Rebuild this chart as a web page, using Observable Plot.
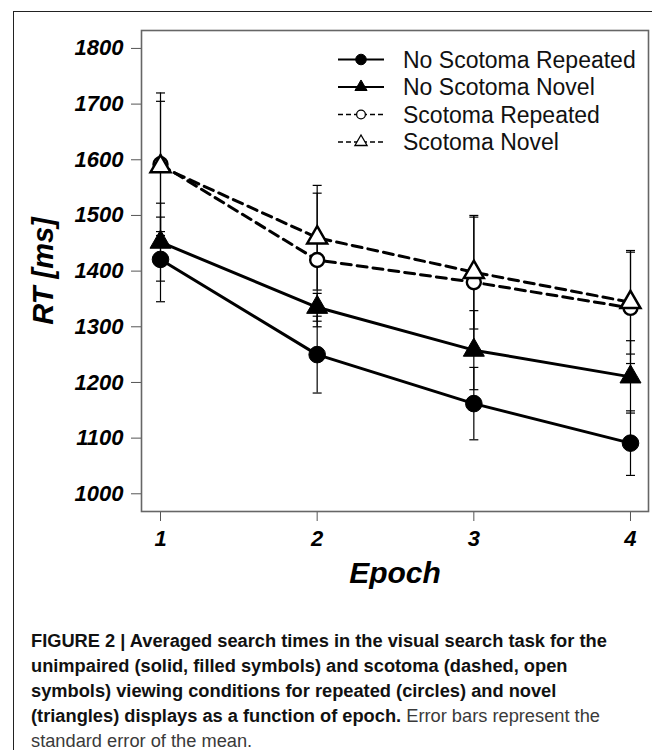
<!DOCTYPE html>
<html>
<head>
<meta charset="utf-8">
<script src="https://cdn.jsdelivr.net/npm/d3@7"></script>
<script src="https://cdn.jsdelivr.net/npm/@observablehq/plot@0.6"></script>
<style>
  body { margin: 0; background: #fff; }
  #wrap { position: relative; width: 652px; height: 750px; overflow: hidden; font-family: "Liberation Sans", Arial, Helvetica, sans-serif; }
  #border { position: absolute; left: 13px; top: 11px; width: 700px; height: 800px; border-left: 1.3px solid #222; border-top: 1.3px solid #222; }
  #chart { position: absolute; left: 0; top: 0; }
  #legend { position: absolute; left: 0; top: 0; }
  #caption { position: absolute; left: 31px; top: 628px; font-size: 18.25px; line-height: 25px; color: #111; white-space: nowrap; font-weight: bold; }
  #caption .reg { color: #3a3a3a; font-weight: normal; }
</style>
</head>
<body>
<div id="wrap">
  <div id="border"></div>
  <div id="chart"></div>
  <div id="legend"></div>
  <div id="caption"></div>
</div>
<script>
// ---- data ----
const epochs = [1, 2, 3, 4];
const seriesNames = ["No Scotoma Repeated", "No Scotoma Novel", "Scotoma Repeated", "Scotoma Novel"];
const noScotomaRepeated   = [1421, 1250, 1162, 1091];
const noScotomaRepeatedSE = [76, 69, 65, 58];
const noScotomaNovel      = [1452, 1335, 1258, 1210];
const noScotomaNovelSE    = [70, 25, 71, 65];
const scotomaRepeated     = [1592, 1420, 1380, 1334];
const scotomaRepeatedSE   = [128, 120, 117, 100];
const scotomaNovel        = [1588, 1460, 1398, 1344];
const scotomaNovelSE      = [117, 94, 102, 93];
const yTicks = [1000, 1100, 1200, 1300, 1400, 1500, 1600, 1700, 1800];
const xTicks = [1, 2, 3, 4];
const yLabel = "RT [ms]";
const xLabel = "Epoch";
const captionBold = [
  "FIGURE 2 | Averaged search times in the visual search task for the",
  "unimpaired (solid, filled symbols) and scotoma (dashed, open",
  "symbols) viewing conditions for repeated (circles) and novel",
  "(triangles) displays as a function of epoch."
];
const captionRegular = [" Error bars represent the", "standard error of the mean."];

// ---- build table ----
const means = [noScotomaRepeated, noScotomaNovel, scotomaRepeated, scotomaNovel];
const ses = [noScotomaRepeatedSE, noScotomaNovelSE, scotomaRepeatedSE, scotomaNovelSE];
const rows = seriesNames.flatMap((s, i) => epochs.map((e, j) => ({series: s, epoch: e, rt: means[i][j], se: ses[i][j]})));
const caps = rows.flatMap(d => [{epoch: d.epoch, v: d.rt - d.se}, {epoch: d.epoch, v: d.rt + d.se}]);

const solid = new Set(seriesNames.slice(0, 2));
const bySeries = name => rows.filter(d => d.series === name);

const capSymbol = {draw(ctx) { ctx.moveTo(-4.5, 0); ctx.lineTo(4.5, 0); }};

const chart = Plot.plot({
  width: 652,
  height: 600,
  marginLeft: 141,
  marginRight: 4,
  marginTop: 30,
  marginBottom: 89,
  x: {domain: [0.8787, 4.1149]},
  y: {domain: [968.2, 1832.2]},
  style: {fontFamily: "'Liberation Sans', Arial, Helvetica, sans-serif", fontSize: "22px", fontWeight: "bold", fontStyle: "italic", background: "transparent", color: "black"},
  marks: [
    Plot.axisY({ticks: yTicks, tickSize: 10, tickPadding: 8, tickFormat: d => String(d), stroke: "#555", fill: "black", label: null}),
    Plot.axisX({ticks: xTicks, tickSize: 10, tickPadding: 9, tickFormat: d => String(d), stroke: "#555", fill: "black", label: null}),
    Plot.frame({stroke: "#666", strokeWidth: 1.6}),
    Plot.text([yLabel], {text: d => d, frameAnchor: "left", textAnchor: "middle", lineAnchor: "middle", rotate: -90, dx: -98, fontSize: 29, fontWeight: "bold", fontStyle: "italic", fill: "black"}),
    Plot.text([xLabel], {text: d => d, frameAnchor: "bottom", textAnchor: "middle", lineAnchor: "middle", dy: 62, fontSize: 30, fontWeight: "bold", fontStyle: "italic", fill: "black"}),
    Plot.line(rows.filter(d => solid.has(d.series)), {x: "epoch", y: "rt", z: "series", stroke: "black", strokeWidth: 3}),
    Plot.line(rows.filter(d => !solid.has(d.series)), {x: "epoch", y: "rt", z: "series", stroke: "black", strokeWidth: 3, strokeDasharray: "10,6"}),
    Plot.ruleX(rows, {x: "epoch", y1: d => d.rt - d.se, y2: d => d.rt + d.se, stroke: "black", strokeWidth: 1.2}),
    Plot.dot(caps, {x: "epoch", y: "v", symbol: capSymbol, r: 3, fill: "none", stroke: "black", strokeWidth: 1.2}),
    Plot.dot(bySeries(seriesNames[0]), {x: "epoch", y: "rt", symbol: "circle", r: 8.3, fill: "black", stroke: "black", strokeWidth: 1}),
    Plot.dot(bySeries(seriesNames[1]), {x: "epoch", y: "rt", symbol: "triangle", r: 7.8, fill: "black", stroke: "black", strokeWidth: 1}),
    Plot.dot(bySeries(seriesNames[2]), {x: "epoch", y: "rt", symbol: "circle", r: 7, fill: "white", stroke: "black", strokeWidth: 2.4}),
    Plot.dot(bySeries(seriesNames[3]), {x: "epoch", y: "rt", symbol: "triangle", r: 7.4, fill: "white", stroke: "black", strokeWidth: 2.5})
  ]
});
document.getElementById("chart").appendChild(chart);

// ---- legend ----
const lg = d3.select("#legend").append("svg").attr("width", 652).attr("height", 170);
const legendStyles = [
  {dash: null, sw: 2, sym: d3.symbolCircle, size: 88, fill: "black", msw: 1},
  {dash: null, sw: 2, sym: d3.symbolTriangle, size: 64, fill: "black", msw: 1},
  {dash: "5,3", sw: 1.3, sym: d3.symbolCircle, size: 60, fill: "white", msw: 1.3},
  {dash: "5,3", sw: 1.3, sym: d3.symbolTriangle, size: 64, fill: "white", msw: 1.3}
];
seriesNames.forEach((name, i) => {
  const st = legendStyles[i];
  const g = lg.append("g").attr("transform", `translate(0,${59.5 + i * 27.5})`);
  g.append("line").attr("x1", 338).attr("x2", 384).attr("y1", 0).attr("y2", 0)
    .attr("stroke", "black").attr("stroke-width", st.sw).attr("stroke-dasharray", st.dash);
  g.append("path").attr("d", d3.symbol(st.sym, st.size)()).attr("transform", "translate(361,0)")
    .attr("fill", st.fill).attr("stroke", "black").attr("stroke-width", st.msw);
  g.append("text").attr("x", 403).attr("y", 0).attr("dy", "0.35em")
    .attr("font-family", "'Liberation Sans', Arial, Helvetica, sans-serif").attr("font-size", 23)
    .attr("fill", "#111").text(name);
});

// ---- caption ----
const cap = document.getElementById("caption");
captionBold.forEach((line, i) => {
  cap.appendChild(document.createTextNode(line));
  if (i < captionBold.length - 1) cap.appendChild(document.createElement("br"));
});
const reg1 = document.createElement("span");
reg1.className = "reg";
reg1.textContent = captionRegular[0];
cap.appendChild(reg1);
cap.appendChild(document.createElement("br"));
const reg2 = document.createElement("span");
reg2.className = "reg";
reg2.textContent = captionRegular[1];
cap.appendChild(reg2);
</script>
</body>
</html>
